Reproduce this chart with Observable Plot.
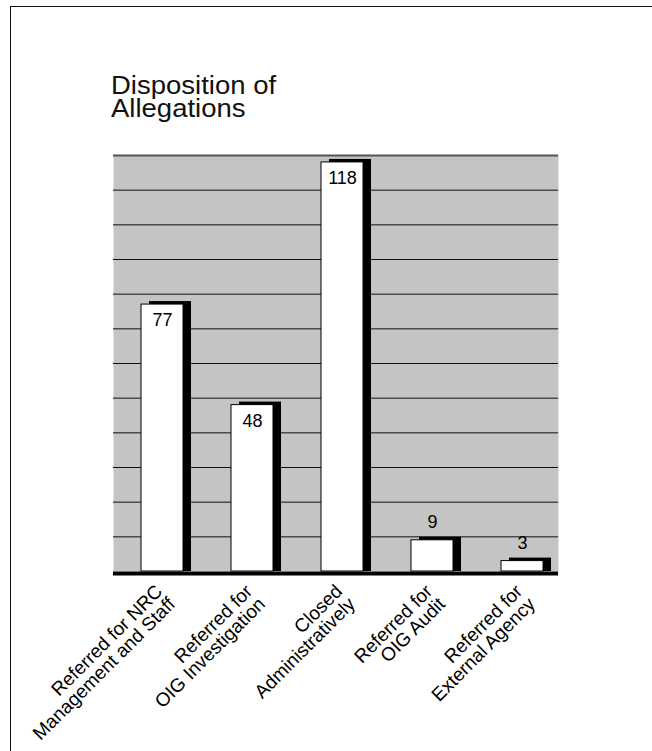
<!DOCTYPE html>
<html><head><meta charset="utf-8">
<script src="https://cdn.jsdelivr.net/npm/d3@7"></script>
<script src="https://cdn.jsdelivr.net/npm/@observablehq/plot@0.6"></script>
<style>
body{margin:0;background:#fff;width:652px;height:751px;overflow:hidden;position:relative;font-family:"Liberation Sans",Arial,Helvetica,sans-serif;}
#border{position:absolute;left:10px;top:6px;width:700px;height:800px;border-left:1.5px solid #111;border-top:1.5px solid #111;}
.title{position:absolute;left:111px;font-size:25px;line-height:25px;color:#111;white-space:nowrap;transform:scaleX(1.1);transform-origin:left center;}
#t1{top:72.8px;}
#t2{top:95.8px;}
#chart{position:absolute;left:0;top:140px;}
</style></head><body>
<div id="border"></div>
<div class="title" id="t1">Disposition of</div>
<div class="title" id="t2">Allegations</div>
<div id="chart"></div>
<script>
const categories = [
  "Referred for NRC\nManagement and Staff",
  "Referred for\nOIG Investigation",
  "Closed\nAdministratively",
  "Referred for\nOIG Audit",
  "Referred for\nExternal Agency"
];
const values = [77, 48, 118, 9, 3];
const gridTicks = [10, 20, 30, 40, 50, 60, 70, 80, 90, 100, 110];
const yMax = 120;

const data = categories.map((c, i) => ({category: c, value: values[i]}));
const font = "'Liberation Sans', Arial, Helvetica, sans-serif";

const plot = Plot.plot({
  width: 652,
  height: 611,
  marginTop: 15,
  marginBottom: 180,
  marginLeft: 113,
  marginRight: 94,
  style: {fontFamily: font, background: "transparent", color: "#000"},
  x: {domain: categories, range: [114.6, 568.4], paddingInner: 0.537, paddingOuter: 0.2685, axis: null},
  y: {domain: [0, yMax], axis: null},
  marks: [
    Plot.frame({fill: "#c4c4c4", stroke: "none"}),
    Plot.ruleY(gridTicks, {stroke: "#111", strokeWidth: 1}),
    Plot.ruleY([yMax], {stroke: "#555", strokeWidth: 2}),
    Plot.barY(data, {x: "category", y: "value", fill: "#000", dx: 8, insetTop: -3}),
    Plot.barY(data, {x: "category", y: "value", fill: "#fff", stroke: "#000", strokeWidth: 1}),
    Plot.ruleY([0], {stroke: "#000", strokeWidth: 4, dy: 2}),
    Plot.text(data.filter(d => d.value > 20), {x: "category", y: "value", text: d => String(d.value), dy: 16, fontSize: 18, fill: "#000"}),
    Plot.text(data.filter(d => d.value <= 20), {x: "category", y: "value", text: d => String(d.value), dy: -18, fontSize: 18, fill: "#000"}),
    Plot.text(data, {x: "category", y: 0, text: "category", rotate: -45, textAnchor: "end", lineAnchor: "top", dx: -8, dy: 12, fontSize: 19, lineHeight: 0.95, fill: "#000"})
  ]
});
document.getElementById("chart").appendChild(plot);
</script>
</body></html>
